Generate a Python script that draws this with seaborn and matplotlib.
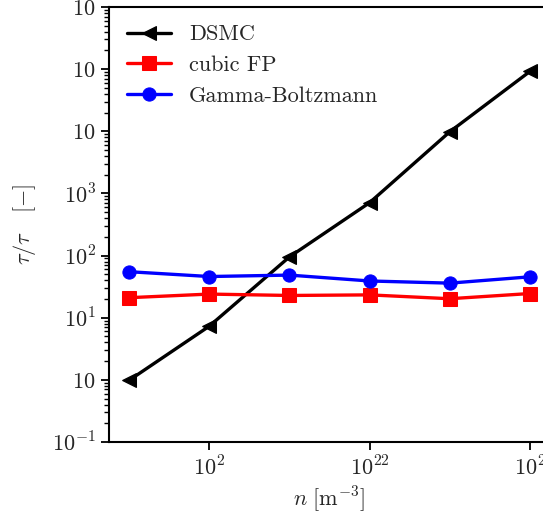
import matplotlib
matplotlib.use("Agg")
import matplotlib.pyplot as plt
import matplotlib.ticker as mticker
import seaborn as sns
import pandas as pd

# number density [m^-3]
n = [3.16e20, 1e21, 3.16e21, 1e22, 3.16e22, 1e23]
# ratio values
dsmc = [0.98, 7.3, 95, 710, 9800, 92000]
cubic_fp = [21.0, 24.0, 22.8, 23.3, 20.2, 24.5]
gamma_boltzmann = [55, 46, 48.5, 39, 36, 45.5]

ytick_vals = [1e-1, 1e0, 1e1, 1e2, 1e3, 1e4, 1e5, 1e6]
ytick_labels = [r"$10^{-1}$", r"$10^{\ }$", r"$10^{1}$", r"$10^{2}$",
                r"$10^{3}$", r"$10^{\ }$", r"$10^{\ }$", r"$10^{\ }$"]
xtick_vals = [1e21, 1e22, 1e23]
xtick_labels = [r"$10^{2\;}$", r"$10^{22}$", r"$10^{2}$"]

sns.set_style("ticks")
plt.rcParams["font.family"] = ["serif"]
plt.rcParams["font.serif"] = ["cmr10", "DejaVu Serif"]
plt.rcParams["mathtext.fontset"] = "cm"
plt.rcParams["axes.formatter.use_mathtext"] = True
plt.rcParams["axes.unicode_minus"] = False

df = pd.DataFrame({"n": n, "DSMC": dsmc, "cubic FP": cubic_fp,
                   "Gamma-Boltzmann": gamma_boltzmann})

fig = plt.figure(figsize=(5.43, 5.23), dpi=100)
ax = fig.add_axes([0.2007, 0.1549, 0.8122, 0.8317])

sns.lineplot(data=df, x="n", y="DSMC", ax=ax, color="black", marker="<",
             markersize=10, markeredgecolor="black", linewidth=2.4, label="DSMC")
sns.lineplot(data=df, x="n", y="cubic FP", ax=ax, color="red", marker="s",
             markersize=9.5, markeredgecolor="red", linewidth=2.4, label="cubic FP")
sns.lineplot(data=df, x="n", y="Gamma-Boltzmann", ax=ax, color="blue", marker="o",
             markersize=9.5, markeredgecolor="blue", linewidth=2.4, label="Gamma-Boltzmann")

ax.set_xscale("log")
ax.set_yscale("log")
ax.set_ylim(1e-1, 1e6)
ax.set_yticks(ytick_vals, ytick_labels)
ax.yaxis.set_minor_locator(mticker.LogLocator(subs=range(2, 10), numticks=100))
ax.yaxis.set_minor_formatter(mticker.NullFormatter())
ax.set_xticks(xtick_vals, xtick_labels)
ax.xaxis.set_minor_locator(mticker.NullLocator())

for s in ax.spines.values():
    s.set_linewidth(1.5)
    s.set_color("black")
ax.tick_params(axis="both", which="major", labelsize=16, width=1.3, length=6, color="black")
ax.tick_params(axis="y", which="minor", width=1.0, length=3.5, color="black")

ax.set_xlabel(r"$n\ [\mathrm{m}^{-3}]$", fontsize=16)
ax.set_ylabel(r"$\tau/\tau_{\ \ \ }\ [-]$", fontsize=16, labelpad=10)

ax.legend(loc="upper left", frameon=False, fontsize=16, handlelength=2.0,
          borderaxespad=0.4)

fig.savefig("out.png", dpi=100)
